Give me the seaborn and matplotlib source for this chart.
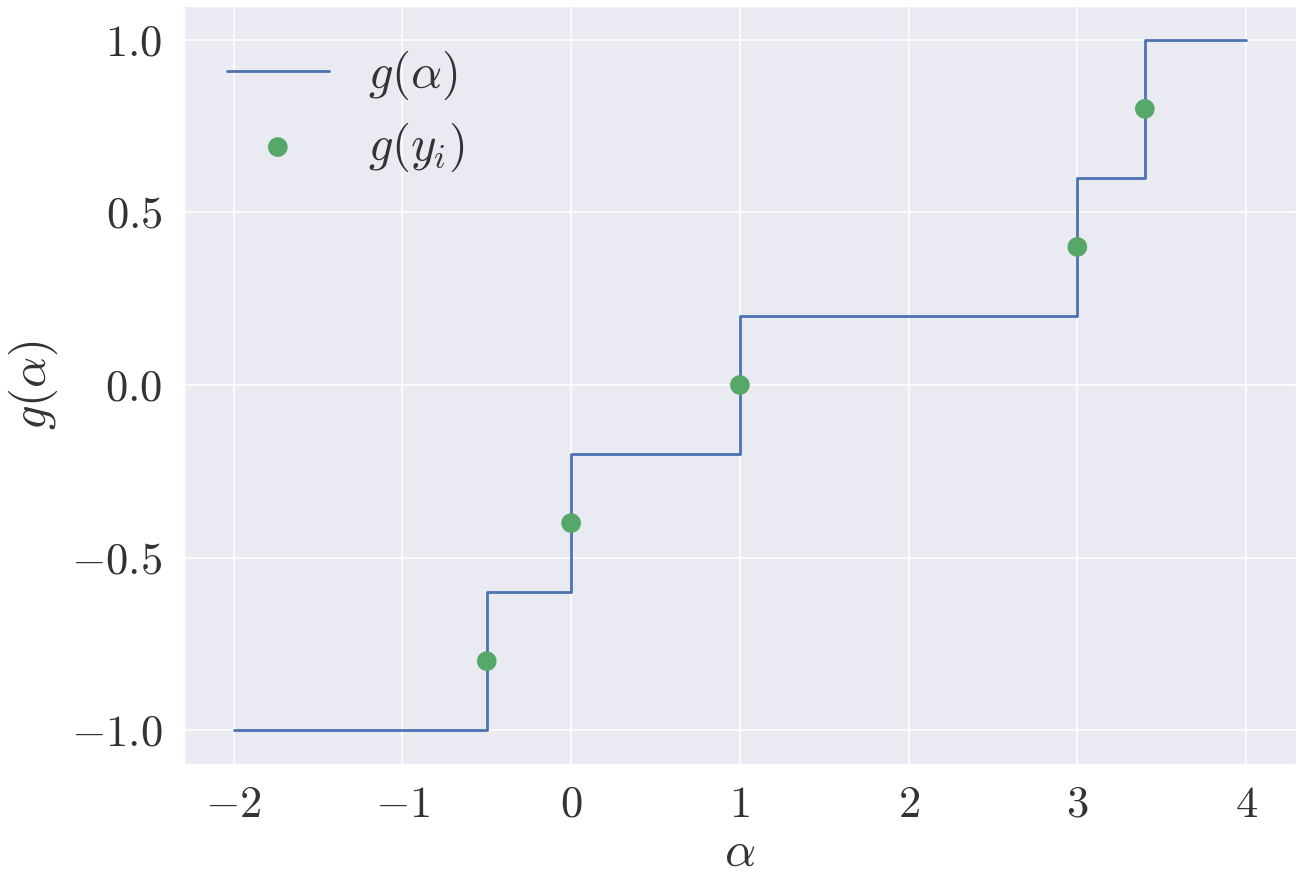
import matplotlib
matplotlib.use("Agg")
import matplotlib.pyplot as plt
import seaborn as sns
import pandas as pd

sns.set_theme(style="darkgrid")
plt.rcParams['font.family'] = 'serif'
plt.rcParams['font.serif'] = ['cmr10']
plt.rcParams['mathtext.fontset'] = 'cm'
plt.rcParams['axes.formatter.use_mathtext'] = True
plt.rcParams['axes.unicode_minus'] = True
plt.rcParams['text.color'] = '#333333'
plt.rcParams['axes.labelcolor'] = '#333333'
plt.rcParams['xtick.color'] = '#333333'
plt.rcParams['ytick.color'] = '#333333'
plt.rcParams['grid.linewidth'] = 0.6

# step function breakpoints and levels
step_x = [-2, -0.5, 0, 1, 3, 3.4, 4]
step_y = [-1.0, -0.6, -0.2, 0.2, 0.6, 1.0, 1.0]
# sample points
pts_x = [-0.5, 0, 1, 3, 3.4]
pts_y = [-0.8, -0.4, 0.0, 0.4, 0.8]

fig, ax = plt.subplots(figsize=(6.49, 4.41), dpi=200)
fig.subplots_adjust(left=0.141, right=0.999, top=0.994, bottom=0.133)

df_step = pd.DataFrame({"x": step_x, "y": step_y})
df_pts = pd.DataFrame({"x": pts_x, "y": pts_y})

sns.lineplot(data=df_step, x="x", y="y", ax=ax, drawstyle="steps-post",
             color="#4C72B0", linewidth=1.0, label=r"$g(\alpha)$")
sns.scatterplot(data=df_pts, x="x", y="y", ax=ax, color="#55A868",
                s=50, edgecolor="none", zorder=3, label=r"$g(y_i)$")

ax.set_xlabel(r"$\alpha$", fontsize=17.5, labelpad=2)
ax.set_ylabel(r"$g(\alpha)$", fontsize=17.5, labelpad=4)
ax.set_xticks([-2, -1, 0, 1, 2, 3, 4])
ax.set_yticks([-1.0, -0.5, 0.0, 0.5, 1.0])
ax.tick_params(labelsize=16, pad=1.5)
ax.set_yticklabels([r"$-1.0$", r"$-0.5$", r"$0.0$", r"$0.5$", r"$1.0$"])
ax.set_xticklabels([r"$-2$", r"$-1$", r"$0$", r"$1$", r"$2$", r"$3$", r"$4$"])
ax.legend(loc="upper left", frameon=False, fontsize=17.5, handlelength=2.1,
          handletextpad=0.8, labelspacing=0.38)

fig.savefig("out.png", dpi=200)
